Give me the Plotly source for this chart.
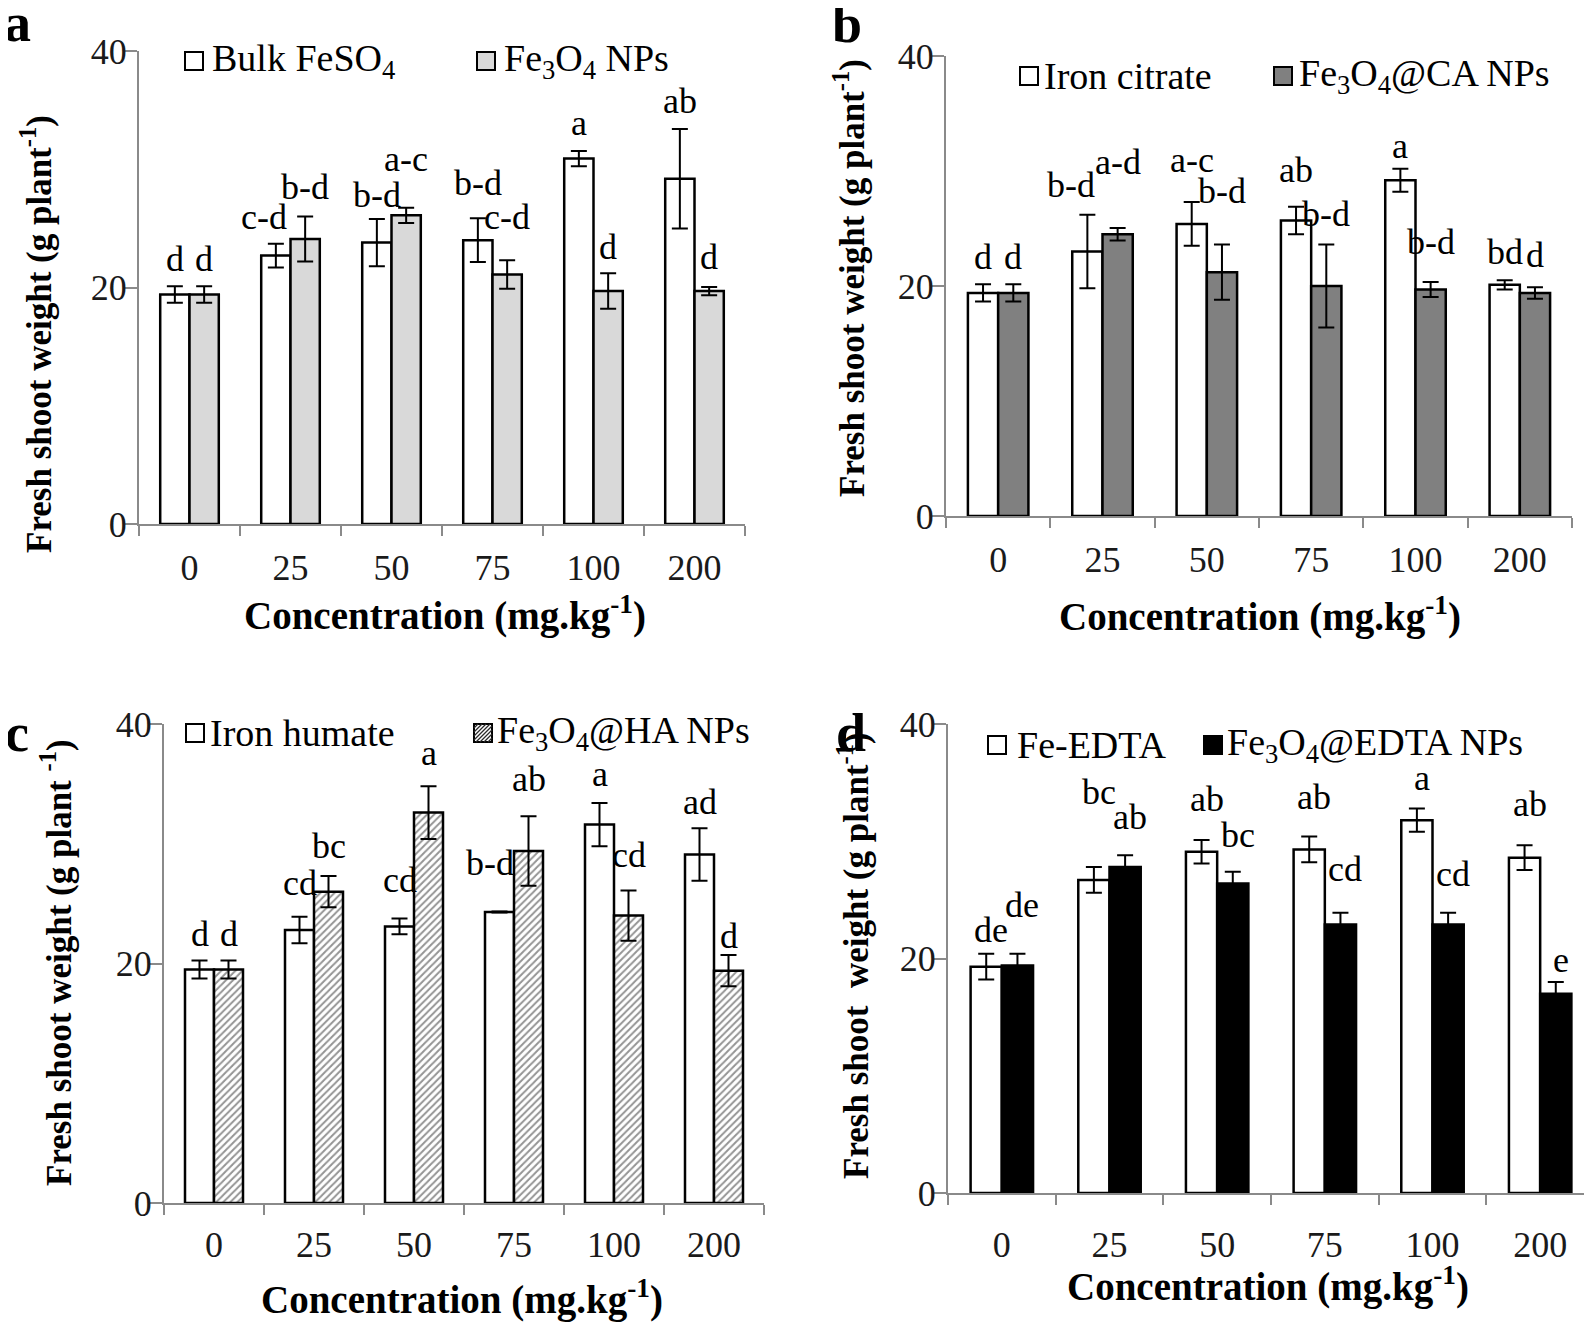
import plotly.graph_objects as go

W, H = 1592, 1327
FONT = "Liberation Serif"
OFF = 8  # page body margin of the exported html

categories = ["0", "25", "50", "75", "100", "200"]

# ---- panel a ----
a_bulk = [19.4, 22.7, 23.8, 24.0, 30.9, 29.2]
a_bulk_err = [0.7, 1.0, 2.0, 1.85, 0.65, 4.2]
a_np = [19.4, 24.1, 26.1, 21.1, 19.7, 19.7]
a_np_err = [0.7, 1.9, 0.65, 1.2, 1.5, 0.35]
a_bulk_letters = ["d", "c-d", "b-d", "b-d", "a", "ab"]
a_np_letters = ["d", "b-d", "a-c", "c-d", "d", "d"]

# ---- panel b ----
b_cit = [19.4, 23.0, 25.4, 25.7, 29.2, 20.1]
b_cit_err = [0.75, 3.2, 1.9, 1.2, 1.0, 0.4]
b_np = [19.4, 24.5, 21.2, 20.0, 19.7, 19.4]
b_np_err = [0.75, 0.55, 2.4, 3.6, 0.65, 0.5]
b_cit_letters = ["d", "b-d", "a-c", "ab", "a", "bd"]
b_np_letters = ["d", "a-d", "b-d", "b-d", "b-d", "d"]

# ---- panel c ----
c_hum = [19.5, 22.8, 23.1, 24.3, 31.6, 29.1]
c_hum_err = [0.75, 1.1, 0.65, 0.05, 1.8, 2.2]
c_np = [19.5, 26.0, 32.6, 29.4, 24.0, 19.4]
c_np_err = [0.75, 1.3, 2.2, 2.9, 2.1, 1.3]
c_hum_letters = ["d", "cd", "cd", "b-d", "a", "ad"]
c_np_letters = ["d", "bc", "a", "ab", "cd", "d"]

# ---- panel d ----
d_edta = [19.3, 26.7, 29.1, 29.3, 31.8, 28.6]
d_edta_err = [1.1, 1.1, 1.0, 1.1, 1.0, 1.05]
d_np = [19.4, 27.8, 26.4, 22.9, 22.9, 17.0]
d_np_err = [1.0, 1.0, 1.0, 1.0, 1.0, 1.0]
d_edta_letters = ["de", "bc", "ab", "ab", "a", "ab"]
d_np_letters = ["de", "ab", "bc", "cd", "cd", "e"]

# label heights (text centre, data units) – placement of significance letters
label_height = {
    "a": ([22.4, 26.0, 27.8, 28.8, 33.9, 35.8], [22.4, 28.5, 30.9, 26.0, 23.4, 22.6]),
    "b": ([22.5, 28.8, 31.0, 30.1, 32.2, 23.0], [22.5, 30.8, 28.3, 26.3, 23.8, 22.7]),
    "c": ([22.5, 26.7, 27.0, 28.4, 35.8, 33.5], [22.5, 29.8, 37.6, 35.4, 29.1, 22.3]),
    "d": ([22.4, 34.2, 33.6, 33.8, 35.4, 33.2], [24.6, 32.1, 30.5, 27.6, 27.2, 19.9]),
}
# small horizontal nudges (px) of individual letters: (panel, series, category)
label_nudge = {("a", 0, 1): -12, ("b", 0, 1): -16, ("c", 0, 3): -10}
panel_nudge = {"d": 5}


def px(x):
    return (x - OFF) / W


def py(y):
    return 1 - (y - OFF) / H


BARGAP = 0.42
HALF = (1 - BARGAP) / 4  # offset of each bar centre from category centre

panels = [
    dict(key="a", ax="", dom=(139, 745, 51, 524),
         s1=(a_bulk, a_bulk_err, a_bulk_letters), s2=(a_np, a_np_err, a_np_letters),
         name1="Bulk FeSO<sub>4</sub>", name2="Fe<sub>3</sub>O<sub>4</sub> NPs",
         fill2="#d9d9d9", pattern=False,
         leg=(185, 210, 477, 502, 61),
         ytitle="<b>Fresh shoot weight (g plant<sup>-1</sup>)</b>", ytpos=(37, 334),
         xtpos=(445, 613), letter_pos=(17, 23), tstand=11),
    dict(key="b", ax="2", dom=(946, 1572, 56, 516),
         s1=(b_cit, b_cit_err, b_cit_letters), s2=(b_np, b_np_err, b_np_letters),
         name1="Iron citrate", name2="Fe<sub>3</sub>O<sub>4</sub>@CA NPs",
         fill2="#808080", pattern=False,
         leg=(1020, 1042, 1274, 1297, 76),
         ytitle="<b>Fresh shoot weight (g plant<sup>-1</sup>)</b>", ytpos=(849, 278),
         xtpos=(1260, 614), letter_pos=(847, 24), tstand=11),
    dict(key="c", ax="3", dom=(164, 764, 724, 1203),
         s1=(c_hum, c_hum_err, c_hum_letters), s2=(c_np, c_np_err, c_np_letters),
         name1="Iron humate", name2="Fe<sub>3</sub>O<sub>4</sub>@HA NPs",
         fill2="white", pattern=True,
         leg=(186, 208, 474, 495, 733),
         ytitle="<b>Fresh shoot weight (g plant <sup>-1</sup>)</b>", ytpos=(56, 963),
         xtpos=(462, 1297), letter_pos=(17, 733), tstand=9),
    dict(key="d", ax="4", dom=(948, 1594, 724, 1193),
         s1=(d_edta, d_edta_err, d_edta_letters), s2=(d_np, d_np_err, d_np_letters),
         name1="Fe-EDTA", name2="Fe<sub>3</sub>O<sub>4</sub>@EDTA NPs",
         fill2="black", pattern=False,
         leg=(988, 1015, 1204, 1225, 745),
         ytitle="<b>Fresh shoot  weight (g plant<sup>-1</sup>)</b>", ytpos=(853, 956),
         xtpos=(1268, 1284), letter_pos=(851, 733), tstand=19),
]

fig = go.Figure()
annotations = []
shapes = []
AXCOL = "#8a8a8a"

for p in panels:
    xa = "x" + p["ax"]
    ya = "y" + p["ax"]
    v1, e1, l1 = p["s1"]
    v2, e2, l2 = p["s2"]
    fig.add_trace(go.Bar(
        x=categories, y=v1, xaxis=xa, yaxis=ya, showlegend=False,
        marker=dict(color="white", line=dict(color="black", width=2.5)),
        error_y=dict(type="data", array=e1, color="black", thickness=2, width=8),
    ))
    m2 = dict(color=p["fill2"], line=dict(color="black", width=2.5))
    if p["pattern"]:
        m2["pattern"] = dict(shape="/", fgcolor="#2a2a2a", bgcolor="white",
                             size=5, solidity=0.4)
    fig.add_trace(go.Bar(
        x=categories, y=v2, xaxis=xa, yaxis=ya, showlegend=False,
        marker=m2,
        error_y=dict(type="data", array=e2, color="black", thickness=2, width=8),
    ))

    x0, x1, yt, yb = p["dom"]
    xkey = "xaxis" + p["ax"]
    ykey = "yaxis" + p["ax"]
    fig.layout[xkey] = dict(
        domain=[px(x0), min(1.0, px(x1))], anchor=ya, type="category", automargin=False,
        showline=True, linecolor=AXCOL, linewidth=2,
        ticks="outside", tickson="boundaries", ticklen=10, tickcolor=AXCOL, tickwidth=2,
        showgrid=False, zeroline=False, ticklabelstandoff=p["tstand"],
        tickfont=dict(family=FONT, size=36, color="#1a1a1a"),
    )
    fig.layout[ykey] = dict(
        domain=[py(yb), py(yt)], anchor=xa, range=[0, 40], automargin=False,
        tickvals=[0, 20, 40], showline=True, linecolor=AXCOL, linewidth=2,
        ticks="outside", ticklen=12, tickcolor=AXCOL, tickwidth=2,
        showgrid=False, zeroline=False, ticklabelstandoff=-9,
        tickfont=dict(family=FONT, size=36, color="#1a1a1a"),
    )

    # significance letters
    h1, h2 = label_height[p["key"]]
    for i in range(len(categories)):
        for s, (off, txt, hy) in enumerate(((-HALF, l1[i], h1[i]), (HALF, l2[i], h2[i]))):
            shift = label_nudge.get((p["key"], s, i), 0) + panel_nudge.get(p["key"], 0)
            annotations.append(dict(
                x=i + off, y=hy, xref=xa, yref=ya, text=txt, showarrow=False,
                xanchor="center", yanchor="middle", xshift=shift,
                font=dict(family=FONT, size=36, color="black"),
            ))

    # legend (manual)
    sx1, tx1, sx2, tx2, ly = p["leg"]
    S = 18
    for sx, fill in ((sx1, "white"), (sx2, p["fill2"])):
        shapes.append(dict(type="rect", xref="paper", yref="paper",
                           x0=px(sx), x1=px(sx + S), y0=py(ly + S / 2), y1=py(ly - S / 2),
                           fillcolor=fill, line=dict(color="black", width=2)))
    if p["pattern"]:
        step = 4
        bx0, by_bot = sx2, ly + S / 2
        k = -S
        while k < S:
            pts = []
            for t in range(0, S + 1):
                xx = bx0 + k + t
                yy = by_bot - t
                if bx0 <= xx <= bx0 + S and by_bot - S <= yy <= by_bot:
                    pts.append((xx, yy))
            if len(pts) >= 2:
                shapes.append(dict(type="line", xref="paper", yref="paper",
                                   x0=px(pts[0][0]), y0=py(pts[0][1]),
                                   x1=px(pts[-1][0]), y1=py(pts[-1][1]),
                                   line=dict(color="#2a2a2a", width=1.2)))
            k += step
    for tx, name in ((tx1, p["name1"]), (tx2, p["name2"])):
        annotations.append(dict(x=px(tx), y=py(ly), xref="paper", yref="paper",
                                text=name, showarrow=False, xanchor="left", yanchor="middle",
                                font=dict(family=FONT, size=38, color="black")))

    # axis titles
    annotations.append(dict(x=px(p["xtpos"][0]), y=py(p["xtpos"][1]), xref="paper", yref="paper",
                            text="<b>Concentration (mg.kg<sup>-1</sup>)</b>", showarrow=False,
                            xanchor="center", yanchor="middle",
                            font=dict(family=FONT, size=39, color="black")))
    annotations.append(dict(x=px(p["ytpos"][0]), y=py(p["ytpos"][1]), xref="paper", yref="paper",
                            text=p["ytitle"], showarrow=False, textangle=-90,
                            xanchor="center", yanchor="middle",
                            font=dict(family=FONT, size=35, color="black")))
    # panel letter
    annotations.append(dict(x=px(p["letter_pos"][0]), y=py(p["letter_pos"][1]), xref="paper", yref="paper",
                            text="<b>%s</b>" % p["key"], showarrow=False,
                            xanchor="center", yanchor="middle",
                            font=dict(family=FONT, size=54, color="black")))

fig.update_layout(
    width=W, height=H, margin=dict(l=0, r=0, t=0, b=0, autoexpand=False),
    paper_bgcolor="white", plot_bgcolor="white",
    barmode="group", bargap=BARGAP, bargroupgap=0,
    annotations=annotations, shapes=shapes, showlegend=False,
)

fig.write_html("out.html")
